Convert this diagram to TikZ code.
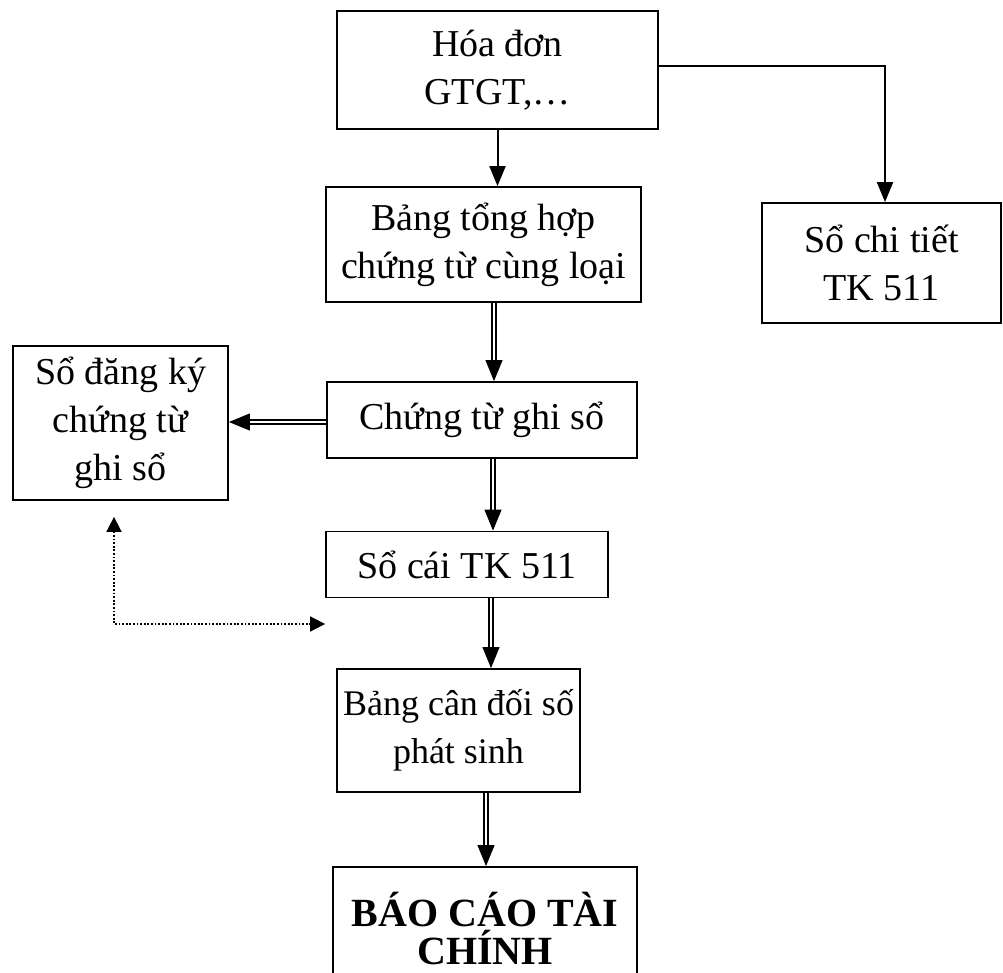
\documentclass[tikz,border=0pt]{standalone}
\usepackage{fontspec}
\setmainfont{Liberation Serif}
\usetikzlibrary{arrows.meta,calc}

\begin{document}
\begin{tikzpicture}[x=1pt,y=-1pt,
  box/.style={draw, line width=1.8pt, align=center, inner sep=0pt,
    font=\fontsize{38}{48}\selectfont},
  sarr/.style={draw, line width=2pt, -{Triangle[length=20pt,width=16pt]}},
  dline/.style={draw, line width=1.5pt, double, double distance=2.6pt, shorten >=18pt},
  dtip/.style={draw, line width=1pt, -{Triangle[length=21pt,width=17pt]}},
  dotarr/.style={draw, line width=1.7pt, dash pattern=on 1.7pt off 1.9pt,
    {Triangle[length=15pt,width=15pt]}-{Triangle[length=15pt,width=15pt]}}]

\useasboundingbox (0,0) rectangle (1003,973);

% boxes
\node[box, minimum width=321pt, minimum height=118pt] (b1) at (497.5,70) {Hóa đơn\\GTGT,…};
\node[box, minimum width=315pt, minimum height=115pt] (b2) at (483.5,244.5) {Bảng tổng hợp\\chứng từ cùng loại};
\node[box, minimum width=310pt, minimum height=76pt] (b3) at (482,420) {Chứng từ ghi sổ};
\node[box, minimum width=215pt, minimum height=154pt] (b4) at (120.5,423) {Sổ đăng ký\\chứng từ\\ghi sổ};
\node[box, minimum width=282pt, minimum height=66pt] (b5) at (467,564.5) {Sổ cái TK 511};
\node[box, minimum width=243pt, minimum height=123pt, font=\fontsize{36}{48}\selectfont] (b6) at (458.5,730.5) {Bảng cân đối số\\phát sinh};
\node[box, minimum width=304pt, minimum height=124pt, font=\fontsize{40}{38}\selectfont\bfseries] (b7) at (485,929) {BÁO CÁO TÀI\\CHÍNH};
\node[box, minimum width=239pt, minimum height=120pt] (b8) at (881.5,263) {Sổ chi tiết\\TK 511};

% connector guide points
\coordinate (xa) at (497.5,0);
\coordinate (xb) at (885,0);
\coordinate (ya) at (0,66);
\coordinate (x23) at (494,0);
\coordinate (x35) at (493,0);
\coordinate (x56) at (491,0);
\coordinate (x67) at (486,0);
\coordinate (y34) at (0,422);
\coordinate (corner) at (114,624);

% single arrows
\draw[sarr] (b1.south -| xa) -- (b2.north -| xa);
\draw[sarr] (b1.east |- ya) -| (b8.north -| xb);

% double arrows
\draw[dline] (b2.south -| x23) -- (b3.north -| x23);
\draw[dtip] ($(b3.north -| x23)+(0,-2)$) -- (b3.north -| x23);
\draw[dline] (b3.west |- y34) -- (b4.east |- y34);
\draw[dtip] ($(b4.east |- y34)+(2,0)$) -- (b4.east |- y34);
\draw[dline] (b3.south -| x35) -- (b5.north -| x35);
\draw[dtip] ($(b5.north -| x35)+(0,-2)$) -- (b5.north -| x35);
\draw[dline] (b5.south -| x56) -- (b6.north -| x56);
\draw[dtip] ($(b6.north -| x56)+(0,-2)$) -- (b6.north -| x56);
\draw[dline] (b6.south -| x67) -- (b7.north -| x67);
\draw[dtip] ($(b7.north -| x67)+(0,-2)$) -- (b7.north -| x67);

% dotted two-way connector
\draw[dotarr, shorten <=16pt, shorten >=11pt] (b4.south -| corner) -- (corner) -- (b6.west |- corner);

\end{tikzpicture}
\end{document}
